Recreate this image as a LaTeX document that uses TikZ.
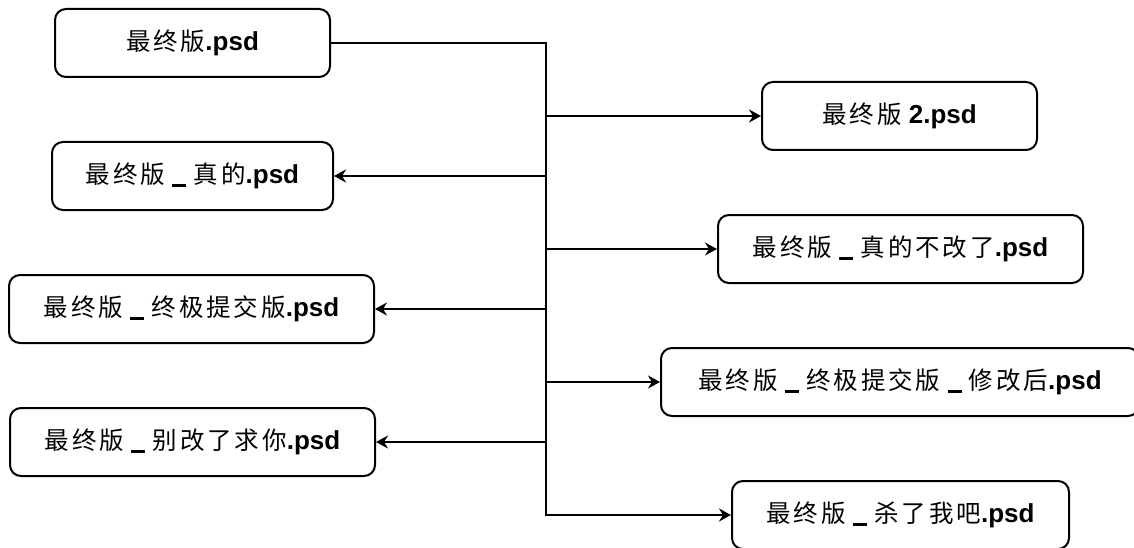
\documentclass[tikz,border=0pt]{standalone}
\usepackage{fontspec}
\setmainfont{Liberation Sans}
\newfontfamily\cjkf[LetterSpace=12]{Noto Sans CJK SC}
\usetikzlibrary{arrows.meta}
\newcommand{\zh}[1]{{\cjkf\fontsize{24.5}{28}\selectfont #1}}
\newcommand{\bl}[1]{{\bfseries #1}}
\newcommand{\us}{\ \rule[-3.5pt]{14pt}{3.3pt}\ }
\begin{document}
\begin{tikzpicture}[x=1pt,y=-1pt,
  filebox/.style={draw=black,line width=2pt,rounded corners=11pt,fill=white,
    minimum height=68pt,inner sep=0pt,align=center,
    font=\fontsize{26}{30}\selectfont},
  wire/.style={draw=black,line width=2pt},
  arr/.style={wire,-{Stealth[length=12pt,width=13pt,inset=4pt]}}]
\useasboundingbox (0,0) rectangle (1134,548);
\node[filebox,minimum width=275pt] (b1) at (192.5,43) {\zh{最终版}\bl{.psd}};
\node[filebox,minimum width=275pt] (b2) at (899.5,116) {\zh{最终版} \bl{2.psd}};
\node[filebox,minimum width=281pt] (b3) at (192.5,176) {\zh{最终版}\us\zh{真的}\bl{.psd}};
\node[filebox,minimum width=365pt] (b4) at (900.5,249) {\zh{最终版}\us\zh{真的不改了}\bl{.psd}};
\node[filebox,minimum width=365pt] (b5) at (191.5,309) {\zh{最终版}\us\zh{终极提交版}\bl{.psd}};
\node[filebox,minimum width=478pt] (b6) at (900,382) {\zh{最终版}\us\zh{终极提交版}\us\zh{修改后}\bl{.psd}};
\node[filebox,minimum width=365pt] (b7) at (192.5,442) {\zh{最终版}\us\zh{别改了求你}\bl{.psd}};
\node[filebox,minimum width=337pt] (b8) at (900.5,515) {\zh{最终版}\us\zh{杀了我吧}\bl{.psd}};
\coordinate (top) at (546,43);
\coordinate (bot) at (546,515);
\draw[arr] (b1.east) -- (top) -- (bot) -- (b8.west);
\draw[arr] (top |- b2.west) -- (b2.west);
\draw[arr] (top |- b3.east) -- (b3.east);
\draw[arr] (top |- b4.west) -- (b4.west);
\draw[arr] (top |- b5.east) -- (b5.east);
\draw[arr] (top |- b6.west) -- (b6.west);
\draw[arr] (top |- b7.east) -- (b7.east);
\end{tikzpicture}
\end{document}
